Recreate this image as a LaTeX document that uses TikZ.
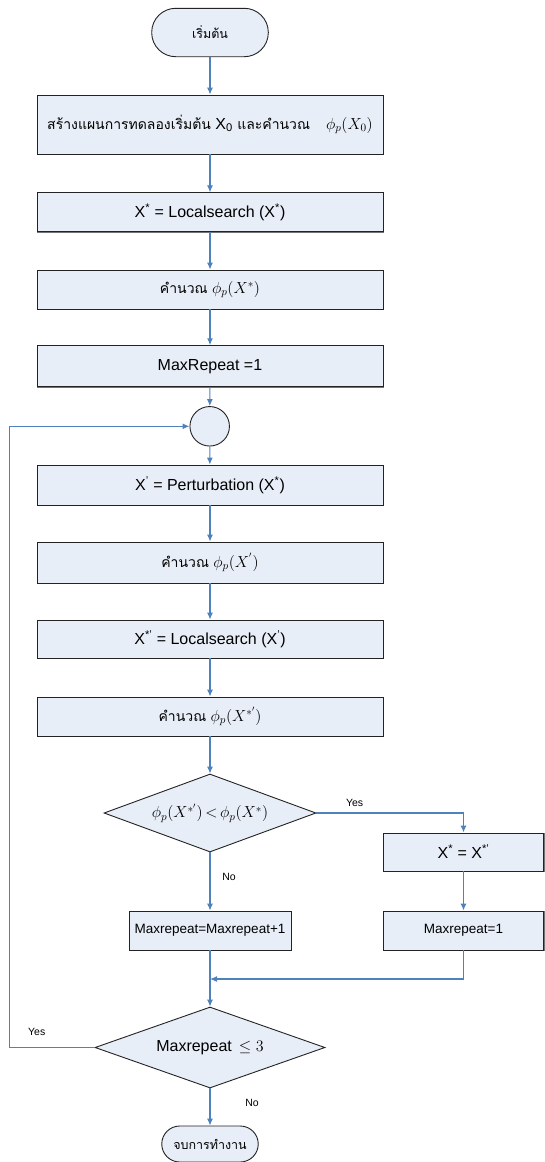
\RequirePackage{fix-cm}
\documentclass[tikz,border=0pt]{standalone}
\usepackage{fontspec}
\setmainfont{Liberation Sans}
\newfontfamily\thaifont[Script=Thai]{Loma}
\usetikzlibrary{arrows.meta,shapes.geometric}
\definecolor{boxfill}{RGB}{232,238,248}
\definecolor{linec}{RGB}{79,129,189}
\definecolor{bordc}{RGB}{35,35,35}
\newcommand{\mainsz}{\fontsize{16}{19}\selectfont}
\newcommand{\thaisz}{\thaifont\fontsize{14}{17}\selectfont}
\newcommand{\termsz}{\thaifont\fontsize{12.5}{15}\selectfont}
\newcommand{\smsz}{\fontsize{10.5}{12}\selectfont}
\begin{document}
\begin{tikzpicture}[x=1pt,y=-1pt,
  shadowed/.style={preaction={draw=black!55,line width=0.9pt,fill=none,transform canvas={shift={(0.9pt,-0.9pt)}}}},
  box/.style={shadowed,draw=bordc,fill=boxfill,line width=0.9pt,inner sep=0pt,minimum width=346pt,font=\mainsz},
  term/.style={draw=bordc,fill=boxfill,line width=0.9pt,inner sep=0pt,font=\termsz},
  dec/.style={diamond,draw=bordc,fill=boxfill,line width=0.9pt,inner sep=0pt,font=\mainsz},
  conn/.style={draw=linec,line width=1.1pt,-{Latex[length=7pt,width=6pt]}},
  lbl/.style={font=\smsz,inner sep=0pt}]
\useasboundingbox (0,0) rectangle (544,1162);

\node[term,minimum width=116.6pt,minimum height=48.4pt,rounded corners=24pt] (start) at (210,32.5) {เริ่มต้น};
\node[box,minimum height=59pt] (b1) at (210,124.5) {{\thaisz สร้างแผนการทดลองเริ่มต้น} X\textsubscript{0} {\thaisz และคำนวณ}\quad $\phi_p(X_0)$};
\node[box,minimum height=38.3pt] (b2) at (210,212) {X\textsuperscript{*} = Localsearch (X\textsuperscript{*})};
\node[box,minimum height=39pt] (b3) at (210,289.5) {{\thaisz คำนวณ} $\phi_p(X^{*})$};
\node[box,minimum height=41pt] (b4) at (210,366.2) {MaxRepeat =1};
\node[circle,draw=bordc,fill=boxfill,line width=0.9pt,inner sep=0pt,minimum size=39.5pt] (circ) at (209.7,426.3) {};
\node[box,minimum height=40pt] (b5) at (210,485) {X\textsuperscript{'} = Perturbation (X\textsuperscript{*})};
\node[box,minimum height=41pt] (b6) at (210,562.5) {{\thaisz คำนวณ} $\phi_p(X^{'})$};
\node[box,minimum height=38pt] (b7) at (210,639) {X\textsuperscript{*'} = Localsearch (X\textsuperscript{'})};
\node[box,minimum height=39pt] (b8) at (210,716.5) {{\thaisz คำนวณ} $\phi_p(X^{*'})$};
\node[dec,shape aspect=2.72,minimum width=212pt,minimum height=78pt] (d1) at (210,813) {$\phi_p(X^{*'})\,{<}\,\phi_p(X^{*})$};
\node[box,minimum width=160pt,minimum height=38pt] (rb1) at (463.5,852) {X\textsuperscript{*} = X\textsuperscript{*'}};
\node[box,minimum width=160pt,minimum height=39pt,font=\fontsize{13.5}{16}\selectfont] (rb2) at (463.5,930.5) {Maxrepeat=1};
\node[box,minimum width=162pt,minimum height=39pt,font=\fontsize{13.5}{16}\selectfont] (lb) at (210,930.5) {Maxrepeat=Maxrepeat+1};
\coordinate (merge) at (210,979);
\node[dec,shape aspect=2.84,minimum width=230pt,minimum height=81pt] (d2) at (210,1047.5) {Maxrepeat \,$\leq 3$};
\node[term,minimum width=96.5pt,minimum height=36pt,rounded corners=18pt] (end) at (210,1144) {จบการทำงาน};
\coordinate (lp) at (9.5,700);

\draw[conn] (start) -- (b1);
\draw[conn] (b1) -- (b2);
\draw[conn] (b2) -- (b3);
\draw[conn] (b3) -- (b4);
\draw[conn] (b4) -- (circ);
\draw[conn] (circ) -- (b5);
\draw[conn] (b5) -- (b6);
\draw[conn] (b6) -- (b7);
\draw[conn] (b7) -- (b8);
\draw[conn] (b8) -- (d1);
\draw[conn] (d1.east) -| (rb1.north);
\draw[conn] (rb1) -- (rb2);
\draw[conn] (d1.south) -- (lb.north);
\draw[conn] (rb2.south) |- (merge);
\draw[conn] (lb.south) -- (d2.north);
\draw[conn] (d2.west) -| (lp) |- (circ.west);
\draw[conn] (d2.south) -- (end.north);

\node[lbl] (yes1) at (354.6,803) {Yes};
\node[lbl] (no1) at (229,877) {No};
\node[lbl] (yes2) at (36.7,1032) {Yes};
\node[lbl] (no2) at (252,1103) {No};
\end{tikzpicture}
\end{document}
